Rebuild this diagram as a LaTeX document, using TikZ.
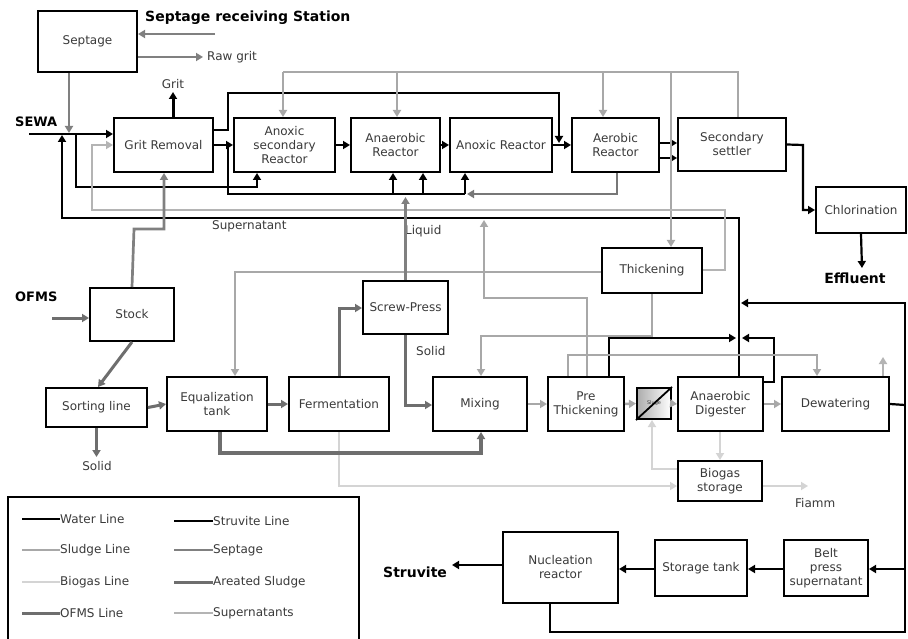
\documentclass[tikz,border=0pt]{standalone}
\usepackage{fontspec}
\setmainfont{DejaVu Sans}
\usetikzlibrary{arrows.meta,calc}
\definecolor{txt}{HTML}{3A3A3A}
\definecolor{cSludge}{HTML}{A8A8A8}
\definecolor{cBiogas}{HTML}{D4D4D4}
\definecolor{cOfms}{HTML}{6E6E6E}
\definecolor{cSept}{HTML}{808080}
\definecolor{cAer}{HTML}{777777}
\definecolor{cSupn}{HTML}{B4B4B4}
\tikzset{
  box/.style={draw=black, line width=2pt, fill=white, inner sep=1pt, align=center,
    text=txt, font=\fontsize{12}{14}\selectfont},
  water/.style={draw=black, line width=2.2pt},
  struv/.style={draw=black, line width=2.8pt},
  sludge/.style={draw=cSludge, line width=2.5pt},
  biog/.style={draw=cBiogas, line width=2.7pt},
  ofms/.style={draw=cOfms, line width=3pt},
  ofmsthick/.style={draw=cOfms, line width=4pt},
  sept/.style={draw=cSept, line width=2.7pt},
  aer/.style={draw=cAer, line width=2.5pt},
  supn/.style={draw=cSupn, line width=2.5pt},
  arr/.style={-{Triangle[length=7pt,width=8pt]}},
  lbl/.style={text=txt, font=\fontsize{12}{14}\selectfont, inner sep=0pt},
  blbl/.style={text=black, font=\fontsize{13}{15}\selectfont\bfseries, inner sep=0pt},
}
\begin{document}
\begin{tikzpicture}[x=1pt,y=-1pt]
\useasboundingbox[fill=white] (0,0) rectangle (908,639);

% ---------- boxes ----------
\node[box, minimum width=99pt, minimum height=61pt] (septage) at (87.5,41.5) {Septage};
\node[box, minimum width=99pt, minimum height=54pt] (grit) at (163.5,145) {Grit Removal};
\node[box, minimum width=101pt, minimum height=54pt] (anoxsec) at (284.5,145) {Anoxic\\secondary\\Reactor};
\node[box, minimum width=89pt, minimum height=54pt] (anaer) at (395.5,145) {Anaerobic\\Reactor};
\node[box, minimum width=102pt, minimum height=54pt] (anoxic) at (501,145) {Anoxic Reactor};
\node[box, minimum width=87pt, minimum height=54pt] (aerobic) at (615.5,145) {Aerobic\\Reactor};
\node[box, minimum width=108pt, minimum height=53pt] (settler) at (732,144.5) {Secondary\\settler};
\node[box, minimum width=90pt, minimum height=46pt] (chlor) at (861,210) {Chlorination};
\node[box, minimum width=100pt, minimum height=45pt] (thick) at (652,270.5) {Thickening};
\node[box, minimum width=85pt, minimum height=53pt] (screw) at (405.5,307.5) {Screw-Press};
\node[box, minimum width=84pt, minimum height=53pt] (stock) at (132,314.5) {Stock};
\node[box, minimum width=101pt, minimum height=39pt] (sorting) at (96.5,407.5) {Sorting line};
\node[box, minimum width=100pt, minimum height=54pt] (equal) at (217,404) {Equalization\\tank};
\node[box, minimum width=100pt, minimum height=54pt] (ferm) at (339,404) {Fermentation};
\node[box, minimum width=94pt, minimum height=54pt] (mixing) at (480,404) {Mixing};
\node[box, minimum width=76pt, minimum height=54pt] (prethick) at (586,404) {Pre\\Thickening};
\node[box, minimum width=34pt, minimum height=31pt, left color=gray!65, right color=white, font=\fontsize{5}{6}\selectfont] (sluge) at (654,403.5) {Sluge};
\node[box, minimum width=85pt, minimum height=54pt] (dig) at (720.5,404) {Anaerobic\\Digester};
\node[box, minimum width=107pt, minimum height=54pt] (dewater) at (835.5,404) {Dewatering};
\node[box, minimum width=84pt, minimum height=40pt] (biogas) at (720,481) {Biogas\\storage};
\node[box, minimum width=115pt, minimum height=71pt] (nucl) at (560.5,567.5) {Nucleation\\reactor};
\node[box, minimum width=92pt, minimum height=56pt] (storage) at (701,568) {Storage tank};
\node[box, minimum width=84pt, minimum height=56pt, inner sep=0pt] (belt) at (826,568) {Belt\\press\\supernatant};
\draw[line width=1.8pt] (sluge.south west) -- (sluge.north east);

% ---------- labels ----------
\node[blbl, anchor=west, font=\fontsize{14}{16}\selectfont\bfseries] (lblstation) at (145,18) {Septage receiving Station};
\node[lbl, anchor=west] (lblraw) at (207,57) {Raw grit};
\node[lbl] (lblgrit) at (173,84) {Grit};
\node[blbl, anchor=west] (lblsewa) at (15,122) {SEWA};
\node[lbl, anchor=west] (lblsupn) at (212,226) {Supernatant};
\node[lbl, anchor=west] (lblliq) at (405,231) {Liquid};
\node[blbl, anchor=west] (lblofms) at (15,297) {OFMS};
\node[lbl, anchor=west] (lblsolid1) at (416,351) {Solid};
\node[lbl] (lblsolid2) at (97,466) {Solid};
\node[lbl, anchor=west] (lblfiamm) at (795,503) {Fiamm};
\node[blbl, font=\fontsize{14}{16}\selectfont\bfseries] (lbleff) at (855,278) {Effluent};
\node[blbl, anchor=west, font=\fontsize{14}{16}\selectfont\bfseries] (lblstruv) at (383,572) {Struvite};

% ---------- coordinates ----------
\coordinate (sewa) at (29,134);
\coordinate (septin) at (215,34);
\coordinate (rawend) at (203,57);
\coordinate (ofmsin) at (52,318);
\coordinate (fiammend) at (808,486);
\coordinate (gritout) at (173,92);

% ---------- septage ----------
\draw[sept,arr] (septin) -- (septage.east |- septin);
\draw[sept,arr] (septage.east |- rawend) -- (rawend);
\draw[sept,arr] (septage.south -| 69,0) -- (69,133);

% ---------- water line ----------
\draw[water,line width=3pt,arr] (grit.north -| gritout) -- (gritout);
\draw[water,arr] (sewa) -- (grit.west |- sewa);
\draw[water,arr] (76,134) -- (76,187) -- (257,187) -- (anoxsec.south -| 257,0);
\draw[water,arr] (dig.north -| 739,0) -- (739,218) -- (62,218) -- (62,135);
\draw[water,arr] (grit.east) -- (anoxsec.west);
\draw[water,arr] (grit.east |- 0,130) -- (228,130) -- (228,93) -- (559,93) -- (559,143);
\draw[water] (228,145) -- (228,194) -- (465,194);
\draw[water,arr] (393,194) -- (anaer.south -| 393,0);
\draw[water,arr] (423,194) -- (anaer.south -| 423,0);
\draw[water,arr] (465,194) -- (anoxic.south -| 465,0);
\draw[water,arr] (anoxsec.east) -- (anaer.west);
\draw[water,arr] (anaer.east) -- (anoxic.west);
\draw[water,arr] (anoxic.east) -- (aerobic.west);
\draw[water,arr] (aerobic.east |- 0,143) -- (settler.west |- 0,143);
\draw[water,arr] (aerobic.east |- 0,158) -- (settler.west |- 0,158);
\draw[water,arr] (settler.east) -- (803,145) -- (803,210) -- (chlor.west);
\draw[water,arr] (chlor.south) -- (862,268);
\draw[water,arr] (prethick.north -| 609,0) -- (609,338) -- (736,338);
\draw[water,arr] (dig.east |- 0,382) -- (774,382) -- (774,338) -- (742,338);
\draw[water] (dewater.east) -- (905,405);
\draw[water,arr] (905,405) -- (905,303) -- (741,303);
\draw[water] (905,405) -- (905,632) -- (550,632) -- (nucl.south -| 550,0);

% ---------- sludge line ----------
\draw[sludge] (settler.north -| 738,0) -- (738,72) -- (283,72);
\draw[sludge,arr] (283,72) -- (anoxsec.north -| 283,0);
\draw[sludge,arr] (397,72) -- (anaer.north -| 397,0);
\draw[sludge,arr] (603,72) -- (aerobic.north -| 603,0);
\draw[sludge,arr] (671,72) -- (thick.north -| 671,0);
\draw[sludge,arr] (prethick.north -| 587,0) -- (587,298) -- (484,298) -- (484,220);
\draw[sludge,arr] (thick.west |- 0,272) -- (235,272) -- (equal.north -| 235,0);
\draw[sludge,arr] (thick.south) -- (652,336) -- (481,336) -- (mixing.north -| 481,0);
\draw[sludge,arr] (prethick.north -| 568,0) -- (568,355) -- (817,355) -- (dewater.north -| 817,0);
\draw[sludge,arr] (mixing.east) -- (prethick.west);
\draw[sludge,arr] (prethick.east) -- (sluge.west);
\draw[sludge,arr] (sluge.east) -- (dig.west);
\draw[sludge,arr] (dig.east) -- (dewater.west);

% ---------- supernatants ----------
\draw[supn,arr] (thick.east |- 0,270) -- (725,270) -- (725,210) -- (92,210) -- (92,145) -- (grit.west |- 0,145);
\draw[supn,arr] (dewater.north -| 883,0) -- (883,357);

% ---------- areated sludge ----------
\draw[aer,arr] (aerobic.south -| 617,0) -- (617,194) -- (467,194);

% ---------- biogas ----------
\draw[biog,arr] (dig.south -| 720,0) -- (biogas.north -| 720,0);
\draw[biog,arr] (biogas.west |- 0,469) -- (652,469) -- (sluge.south -| 652,0);
\draw[biog,arr] (ferm.south) -- (339,486) -- (biogas.west |- 0,486);
\draw[biog,arr] (biogas.east |- fiammend) -- (fiammend);

% ---------- OFMS ----------
\draw[ofms,arr] (ofmsin) -- (stock.west |- ofmsin);
\draw[ofms,arr] (stock.south) -- (sorting.north -| 98,0);
\draw[sept,arr] (stock.north) -- (134,229) -- (164,229) -- (grit.south -| 164,0);
\draw[ofms,arr] (sorting.east) -- (equal.west);
\draw[ofms,arr] (equal.east) -- (ferm.west);
\draw[ofms,arr] (ferm.north) -- (339,308) -- (screw.west |- 0,308);
\draw[ofms,arr] (screw.south) -- (405.5,405) -- (mixing.west |- 0,405);
\draw[sept,arr] (screw.north) -- (405.5,197);
\draw[ofmsthick,arr] (equal.south -| 220,0) -- (220,453) -- (481,453) -- (mixing.south -| 481,0);
\draw[ofms,arr] (sorting.south) -- (96.5,457);

% ---------- struvite ----------
\draw[struv,arr] (905,569) -- (belt.east |- 0,569);
\draw[struv,arr] (belt.west |- 0,569) -- (storage.east |- 0,569);
\draw[struv,arr] (storage.west |- 0,569) -- (nucl.east |- 0,569);
\draw[struv,arr] (nucl.west |- 0,565) -- (452,565);

% ---------- legend ----------
\node[draw=black, line width=1.8pt, minimum width=351pt, minimum height=160pt, anchor=north west] (legend) at (7,496) {};
\begin{scope}[every node/.style={lbl, anchor=west}]
\coordinate (l1a) at (22,519); \coordinate (l1b) at (60,519);
\draw[water] (l1a) -- (l1b); \node (t1) at (l1b) {Water Line};
\coordinate (l2a) at (22,550); \coordinate (l2b) at (60,550);
\draw[sludge] (l2a) -- (l2b); \node (t2) at (l2b) {Sludge Line};
\coordinate (l3a) at (22,582); \coordinate (l3b) at (60,582);
\draw[biog] (l3a) -- (l3b); \node (t3) at (l3b) {Biogas Line};
\coordinate (l4a) at (22,613); \coordinate (l4b) at (60,613);
\draw[ofms] (l4a) -- (l4b); \node (t4) at (l4b) {OFMS Line};
\coordinate (l5a) at (174,521); \coordinate (l5b) at (213,521);
\draw[struv] (l5a) -- (l5b); \node (t5) at (l5b) {Struvite Line};
\coordinate (l6a) at (174,550); \coordinate (l6b) at (213,550);
\draw[sept] (l6a) -- (l6b); \node (t6) at (l6b) {Septage};
\coordinate (l7a) at (174,582); \coordinate (l7b) at (213,582);
\draw[ofms] (l7a) -- (l7b); \node (t7) at (l7b) {Areated Sludge};
\coordinate (l8a) at (174,613); \coordinate (l8b) at (213,613);
\draw[supn] (l8a) -- (l8b); \node (t8) at (l8b) {Supernatants};
\end{scope}
\end{tikzpicture}
\end{document}
